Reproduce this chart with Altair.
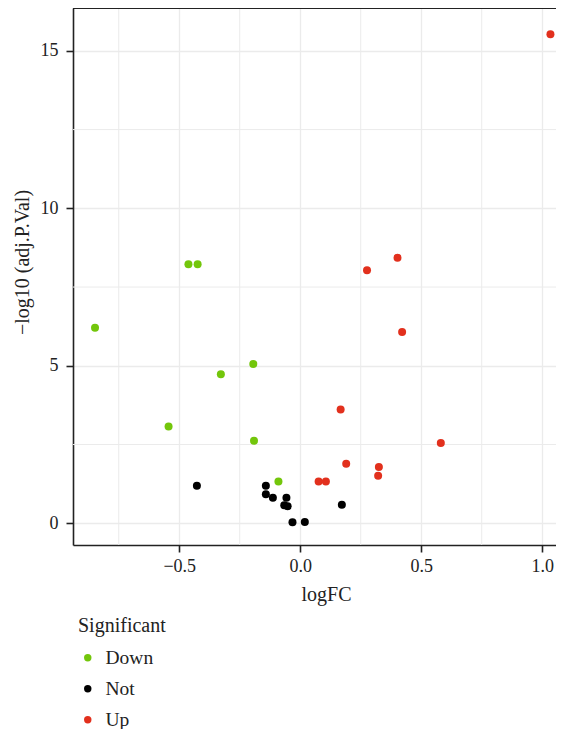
import altair as alt
import pandas as pd

# ---- data ----
logfc = [-0.462, -0.424, -0.848, -0.194, -0.328, -0.544, -0.191, -0.090,
         -0.427, -0.142, -0.142, -0.113, -0.057, -0.066, -0.052, -0.032, 0.019, 0.172,
         0.076, 0.106, 0.190, 0.167, 0.325, 0.322, 0.581, 0.421, 0.276, 0.402, 1.034]
neglog_p = [8.22, 8.22, 6.21, 5.06, 4.73, 3.07, 2.62, 1.33,
            1.19, 1.19, 0.92, 0.81, 0.81, 0.57, 0.54, 0.03, 0.04, 0.59,
            1.33, 1.33, 1.89, 3.61, 1.79, 1.51, 2.55, 6.07, 8.03, 8.43, 15.53]
significant = ["Down"] * 8 + ["Not"] * 10 + ["Up"] * 11

groups = ["Down", "Not", "Up"]
group_colors = ["#73c60b", "#000000", "#e2301d"]

x_major = [-0.5, 0.0, 0.5, 1.0]
x_minor = [-0.75, -0.25, 0.25, 0.75]
y_major = [0, 5, 10, 15]
y_minor = [2.5, 7.5, 12.5]

x_domain = [-0.939, 1.057]
y_domain = [-0.69, 16.36]

W, H = 483, 537
FONT = "Liberation Serif"
GRID = "#ebebeb"

df = pd.DataFrame({"logFC": logfc, "p": neglog_p, "Significant": significant})

xscale = alt.Scale(domain=x_domain, nice=False, zero=False)
yscale = alt.Scale(domain=y_domain, nice=False, zero=False)

xaxis = alt.Axis(values=x_major, format=".1f", grid=True, gridColor=GRID, gridWidth=1.3,
                 tickSize=7, tickWidth=1.6, tickColor="#222", domainColor="#222", domainWidth=1.6,
                 labelFont=FONT, labelFontSize=18, labelColor="#222", labelPadding=5,
                 title="logFC", titleFont=FONT, titleFontSize=20, titleFontWeight="normal",
                 titleColor="#222", titleX=253, titleY=55, titleBaseline="alphabetic",
                 titleAlign="center")
yaxis = alt.Axis(values=y_major, format="d", grid=True, gridColor=GRID, gridWidth=1.3,
                 tickSize=7, tickWidth=1.6, tickColor="#222", domainColor="#222", domainWidth=1.6,
                 labelFont=FONT, labelFontSize=18, labelColor="#222", labelPadding=8,
                 title="\u2212log10 (adj.P.Val)", titleFont=FONT, titleFontSize=20,
                 titleFontWeight="normal", titleColor="#222", titleX=-51, titleY=254,
                 titleAngle=-90, titleAlign="center", titleBaseline="middle")

minor_x = alt.Chart(pd.DataFrame({"v": x_minor})).mark_rule(color=GRID, strokeWidth=1).encode(
    x=alt.X("v:Q", scale=xscale, axis=xaxis))
minor_y = alt.Chart(pd.DataFrame({"v": y_minor})).mark_rule(color=GRID, strokeWidth=1).encode(
    y=alt.Y("v:Q", scale=yscale, axis=yaxis))

points = alt.Chart(df).mark_circle(size=64, opacity=1).encode(
    x=alt.X("logFC:Q", scale=xscale, axis=xaxis),
    y=alt.Y("p:Q", scale=yscale, axis=yaxis),
    color=alt.Color("Significant:N",
                    scale=alt.Scale(domain=groups, range=group_colors),
                    legend=alt.Legend(orient="none", legendX=5, legendY=608, padding=0,
                                      title="Significant", titleFont=FONT, titleFontSize=20,
                                      titleFontWeight="normal", titleColor="#222",
                                      titlePadding=12, labelFont=FONT, labelFontSize=19.5,
                                      labelColor="#222", labelOffset=8, symbolOffset=0,
                                      symbolSize=55, symbolType="circle", rowPadding=10,
                                      symbolStrokeWidth=0)),
)

top_border = alt.Chart(pd.DataFrame({"a": [0]})).mark_rule(color="#222", strokeWidth=2).encode(
    x=alt.value(0), x2=alt.value(W), y=alt.value(0))

chart = alt.layer(minor_x, minor_y, points, top_border).properties(
    width=W, height=H,
    autosize=alt.AutoSizeParams(type="none"),
    padding={"left": 65, "top": 0, "right": 0, "bottom": 184},
).configure_view(stroke=None)

chart.save("out.html", embed_options={"renderer": "svg", "actions": False})
